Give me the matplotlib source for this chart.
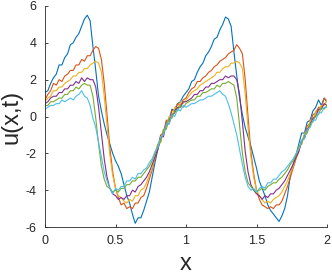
import numpy as np
import matplotlib
matplotlib.use("Agg")
import matplotlib.pyplot as plt

plt.rcParams['font.family'] = ['Liberation Sans', 'DejaVu Sans']

x = np.linspace(0, 2, 101)

u1 = [1.3, 1.4, 1.8, 2.1, 2.3, 2.8, 2.8, 3.2, 3.4, 3.9, 4.0, 4.3, 4.5, 4.9, 5.3, 5.5, 5.2, 3.8, 2.5, 1.1,
      0.3, -0.4, -1.0, -1.5, -2.0, -2.4, -2.7, -3.1, -3.7, -4.3, -4.7, -5.3, -5.8, -5.5, -5.5, -5.1, -4.6, -4.1, -3.3, -2.5,
      -1.8, -1.2, -0.9, -0.3, -0.2, 0.4, 0.3, 0.7, 0.8, 1.1,
      1.3, 1.5, 1.9, 2.0, 2.4, 2.7, 2.9, 3.3, 3.5, 3.8, 4.2, 4.3, 4.7, 5.0, 5.4, 5.3, 4.9, 3.5, 2.2, 1.0,
      0.1, -0.6, -1.1, -1.6, -2.2, -2.8, -3.5, -3.9, -4.3, -4.8, -5.1, -5.3, -5.5, -5.7, -5.4, -5.0, -4.3, -3.2, -2.6, -2.1,
      -1.5, -0.9, -0.9, -0.3, -0.2, 0.3, 0.5, 0.9, 0.6, 1.0, 0.8]

u2 = [0.9, 1.2, 1.4, 1.8, 1.7, 2.0, 1.9, 2.2, 2.3, 2.5, 2.5, 2.8, 2.8, 3.1, 3.0, 3.3, 3.3, 3.6, 3.8, 3.7,
      3.1, 1.8, 0.1, -1.7, -3.0, -3.9, -4.4, -4.8, -4.7, -5.0, -4.9, -5.0, -4.7, -4.7, -4.4, -4.3, -3.9, -3.4, -2.9, -2.3,
      -1.7, -1.0, -0.9, -0.2, -0.2, 0.3, 0.4, 0.7, 0.6, 0.9,
      1.0, 1.3, 1.5, 1.6, 1.9, 1.9, 2.1, 2.2, 2.4, 2.5, 2.7, 2.8, 3.0, 3.1, 3.2, 3.4, 3.5, 3.6, 3.9, 3.7,
      3.4, 2.0, 0.0, -1.9, -3.1, -4.0, -4.5, -4.8, -4.9, -5.0, -4.9, -5.0, -4.8, -4.8, -4.6, -4.2, -3.8, -3.3, -2.8, -2.3,
      -1.9, -1.3, -1.1, -0.5, -0.4, 0.1, 0.2, 0.5, 0.5, 1.0, 0.8]

u3 = [0.8, 1.0, 1.1, 1.4, 1.4, 1.6, 1.6, 1.8, 1.9, 2.0, 2.2, 2.2, 2.4, 2.4, 2.6, 2.6, 2.8, 2.9, 3.0, 2.9,
      2.4, 1.1, -0.5, -2.1, -3.2, -3.9, -4.3, -4.4, -4.6, -4.7, -4.5, -4.6, -4.3, -4.3, -4.0, -3.9, -3.6, -3.2, -2.8, -2.2,
      -1.6, -1.4, -0.7, -0.6, 0.0, 0.0, 0.5, 0.4, 0.8, 0.7,
      0.9, 1.1, 1.3, 1.4, 1.5, 1.7, 1.8, 1.9, 2.0, 2.1, 2.2, 2.4, 2.4, 2.6, 2.7, 2.7, 2.9, 2.9, 3.0, 2.9,
      2.6, 1.2, -0.6, -2.2, -3.3, -4.0, -4.3, -4.5, -4.7, -4.6, -4.7, -4.5, -4.4, -4.3, -4.1, -3.8, -3.5, -3.1, -2.7, -2.2,
      -1.7, -1.5, -0.9, -0.8, -0.2, -0.2, 0.3, 0.3, 0.6, 0.6, 0.9]

u4 = [0.7, 0.8, 1.0, 1.1, 1.1, 1.3, 1.3, 1.5, 1.5, 1.7, 1.7, 1.9, 1.8, 2.1, 1.9, 2.1, 2.0, 2.0, 1.6, 0.5,
      -0.9, -2.3, -3.3, -3.9, -4.2, -4.3, -4.5, -4.4, -4.5, -4.3, -4.3, -4.0, -4.1, -3.8, -3.7, -3.5, -3.3, -3.0, -2.6, -2.2,
      -1.8, -1.1, -1.1, -0.4, -0.4, 0.1, 0.2, 0.5, 0.5, 0.8,
      0.8, 0.9, 1.0, 1.2, 1.2, 1.4, 1.4, 1.6, 1.6, 1.8, 1.8, 1.9, 2.0, 2.0, 2.2, 2.1, 2.2, 2.2, 2.0, 1.2,
      -0.3, -1.9, -3.0, -3.7, -4.0, -4.2, -4.3, -4.5, -4.3, -4.4, -4.2, -4.2, -4.0, -3.9, -3.7, -3.5, -3.2, -2.9, -2.6, -2.2,
      -1.9, -1.3, -1.2, -0.7, -0.5, -0.1, 0.0, 0.4, 0.4, 0.7, 0.6]

u5 = [0.6, 0.6, 0.8, 0.8, 0.9, 1.0, 1.0, 1.2, 1.2, 1.4, 1.4, 1.6, 1.5, 1.7, 1.8, 1.7, 1.7, 1.1, -0.1, -1.5,
      -2.7, -3.4, -3.8, -3.9, -4.1, -4.0, -4.1, -3.9, -3.9, -3.7, -3.7, -3.5, -3.5, -3.3, -3.3, -3.1, -2.9, -2.7, -2.4, -2.0,
      -1.5, -1.4, -0.7, -0.7, -0.1, -0.1, 0.3, 0.3, 0.6, 0.5,
      0.7, 0.8, 0.9, 0.9, 1.1, 1.1, 1.3, 1.3, 1.4, 1.5, 1.5, 1.7, 1.6, 1.8, 1.8, 1.9, 1.8, 1.7, 1.0, -0.5,
      -2.0, -3.0, -3.6, -3.8, -4.0, -4.1, -4.0, -3.9, -4.0, -3.8, -3.7, -3.6, -3.6, -3.4, -3.3, -3.1, -2.9, -2.6, -2.4, -2.1,
      -1.6, -1.5, -1.0, -0.9, -0.4, -0.3, 0.1, 0.1, 0.5, 0.4, 0.6]

u6 = [0.4, 0.5, 0.6, 0.6, 0.7, 0.7, 0.9, 0.8, 0.9, 1.0, 0.9, 1.1, 1.2, 1.4, 1.1, 1.0, 0.6, -0.1, -0.6, -1.4,
      -2.2, -3.0, -3.5, -3.9, -4.2, -3.9, -4.0, -3.8, -3.8, -3.5, -3.5, -3.3, -3.4, -3.1, -3.1, -2.9, -2.8, -2.5, -2.3, -1.9,
      -1.7, -1.1, -1.0, -0.4, -0.4, 0.1, 0.0, 0.4, 0.3, 0.6,
      0.5, 0.6, 0.7, 0.7, 0.8, 0.9, 0.9, 1.0, 1.1, 1.1, 1.2, 1.3, 1.4, 1.2, 1.1, 0.7, 0.2, -0.4, -1.0, -1.8,
      -2.6, -3.3, -3.8, -4.0, -3.9, -4.1, -3.9, -3.8, -3.9, -3.6, -3.6, -3.4, -3.4, -3.2, -3.0, -2.9, -2.7, -2.5, -2.3, -2.0,
      -1.8, -1.3, -1.2, -0.7, -0.6, -0.2, -0.2, 0.2, 0.2, 0.5, 0.5]

series = [u1, u2, u3, u4, u5, u6]
colors = ['#0072BD', '#D95319', '#EDB120', '#7E2F8E', '#77AC30', '#4DBEEE']

xticks = [0, 0.5, 1, 1.5, 2]
xticklabels = ['0', '0.5', '1', '1.5', '2']
yticks = [-6, -4, -2, 0, 2, 4, 6]
yticklabels = ['-6', '-4', '-2', '0', '2', '4', '6']

fig = plt.figure(figsize=(3.32, 2.74), dpi=100)
ax = fig.add_axes([45/332, 47/274, 282/332, 221/274])

for s, c in zip(series, colors):
    ax.plot(x, s, color=c, lw=0.8)

ax.set_xlim(0, 2)
ax.set_ylim(-6, 6)
ax.set_xticks(xticks)
ax.set_xticklabels(xticklabels)
ax.set_yticks(yticks)
ax.set_yticklabels(yticklabels)
for sp in ['top', 'right']:
    ax.spines[sp].set_visible(False)
for sp in ['left', 'bottom']:
    ax.spines[sp].set_color('#262626')
    ax.spines[sp].set_linewidth(0.6)
ax.tick_params(direction='in', length=2.5, width=0.6, colors='#262626', labelsize=9, pad=6)
ax.set_xlabel('x', fontsize=17, color='#262626', labelpad=4)
ax.set_ylabel('u(x,t)', fontsize=17, color='#262626', labelpad=2)

fig.savefig('out.png', dpi=100)
